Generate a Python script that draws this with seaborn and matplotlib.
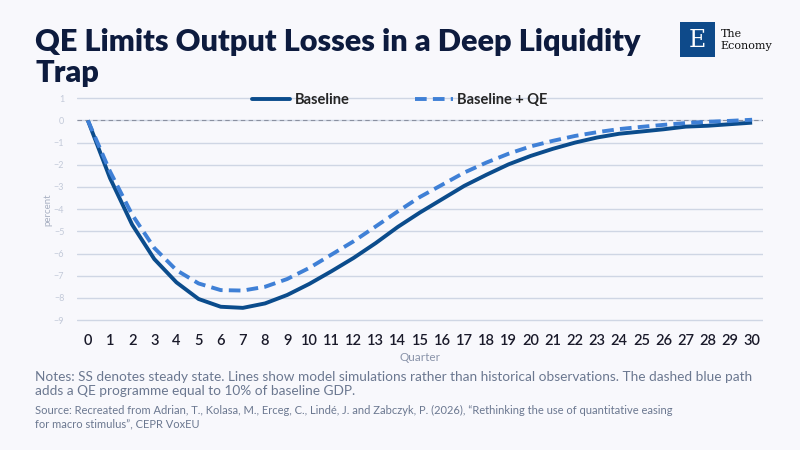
import numpy as np
import pandas as pd
import matplotlib
matplotlib.use("Agg")
import matplotlib.pyplot as plt
import seaborn as sns
from matplotlib.patches import Rectangle
from matplotlib.lines import Line2D

## Data
quarters = list(range(0, 31))
baseline = [0.0, -2.6, -4.7, -6.25, -7.3, -8.05, -8.4, -8.45, -8.25, -7.87,
            -7.37, -6.8, -6.2, -5.53, -4.8, -4.15, -3.55, -2.95, -2.45, -1.98,
            -1.6, -1.28, -1.0, -0.77, -0.6, -0.5, -0.4, -0.28, -0.24, -0.17, -0.1]
baseline_qe = [0.0, -2.3, -4.25, -5.75, -6.75, -7.35, -7.65, -7.67, -7.5, -7.15,
               -6.65, -6.05, -5.45, -4.78, -4.1, -3.45, -2.9, -2.35, -1.9, -1.5,
               -1.17, -0.92, -0.7, -0.53, -0.39, -0.29, -0.2, -0.12, -0.06, -0.02, 0.03]
yticks = list(range(-9, 2))
series_names = ["Baseline", "Baseline + QE"]

df = pd.DataFrame({"Quarter": quarters * 2,
                   "value": baseline + baseline_qe,
                   "series": [series_names[0]] * 31 + [series_names[1]] * 31})

bg = "#F8F8FC"
navy = "#0D1B3E"
c_base = "#0B4C8C"
c_qe = "#3F80D6"
grey_txt = "#6B7890"

sns.set_theme(style="white")
plt.rcParams['font.family'] = ['Lato', 'DejaVu Sans']

fig = plt.figure(figsize=(8, 4.5), dpi=100, facecolor=bg)
ax = fig.add_axes([0.096, 0.271, 0.858, 0.524], facecolor=bg)

sns.lineplot(data=df, x="Quarter", y="value", hue="series", style="series",
             palette=[c_base, c_qe], dashes=[(1, 0), (3, 1.6)],
             linewidth=2.8, ax=ax, legend=False)

ax.axhline(0, color="#8A90A0", lw=0.8, ls=(0, (4, 3)), zorder=1)
ax.set_xlim(-0.5, 30.5)
ax.set_ylim(-9.36, 1.27)
ax.set_yticks(yticks)
ax.set_xticks(quarters)
ax.grid(axis="y", color="#CFD6E4", lw=1)
ax.set_axisbelow(True)
for s in ax.spines.values():
    s.set_visible(False)
ax.tick_params(axis="y", length=0, labelsize=6.5, labelcolor="#C3CAD9", pad=9)
ax.tick_params(axis="x", length=0, labelsize=10.5, labelcolor="#1A1A2A", pad=4)
for lab in ax.get_xticklabels():
    lab.set_fontweight("semibold")
ax.set_xlabel("Quarter", fontsize=8.5, color="#8A94AA", labelpad=3)
ax.set_ylabel("percent", fontsize=7, color="#A8B0C2", labelpad=1)

# legend
handles = [Line2D([0], [0], color=c_base, lw=2.8),
           Line2D([0], [0], color=c_qe, lw=2.8, ls=(0, (3, 1.6)))]
fig.legend(handles, series_names, loc="center", bbox_to_anchor=(0.5, 0.778),
           ncol=2, frameon=False, handlelength=2.6, handletextpad=0.3,
           columnspacing=4.5, prop={"weight": "bold", "size": 10.5})

# title
fig.text(0.044, 0.872, "QE Limits Output Losses in a Deep Liquidity\nTrap",
         fontsize=22.1, fontweight="heavy", color=navy, va="center", linespacing=1.1)

# logo
fig.patches.append(Rectangle((0.85, 0.873), 0.044, 0.078, transform=fig.transFigure,
                             facecolor="#0E4A8A", edgecolor="none"))
fig.text(0.872, 0.91, "E", fontsize=17, color="white", family="DejaVu Serif",
         ha="center", va="center")
fig.text(0.901, 0.925, "The", fontsize=8, color="#111111", family="DejaVu Serif", va="center")
fig.text(0.901, 0.897, "Economy", fontsize=8, color="#111111", family="DejaVu Serif", va="center")

# notes
fig.text(0.044, 0.147, "Notes: SS denotes steady state. Lines show model simulations rather than historical observations. The dashed blue path\nadds a QE programme equal to 10% of baseline GDP.",
         fontsize=9.8, color=grey_txt, va="center", linespacing=1.2)
fig.text(0.044, 0.073, "Source: Recreated from Adrian, T., Kolasa, M., Erceg, C., Lindé, J. and Zabczyk, P. (2026), \u201cRethinking the use of quantitative easing\nfor macro stimulus\u201d, CEPR VoxEU",
         fontsize=8, color=grey_txt, va="center", linespacing=1.3)

fig.savefig("out.png", dpi=100, facecolor=bg)
